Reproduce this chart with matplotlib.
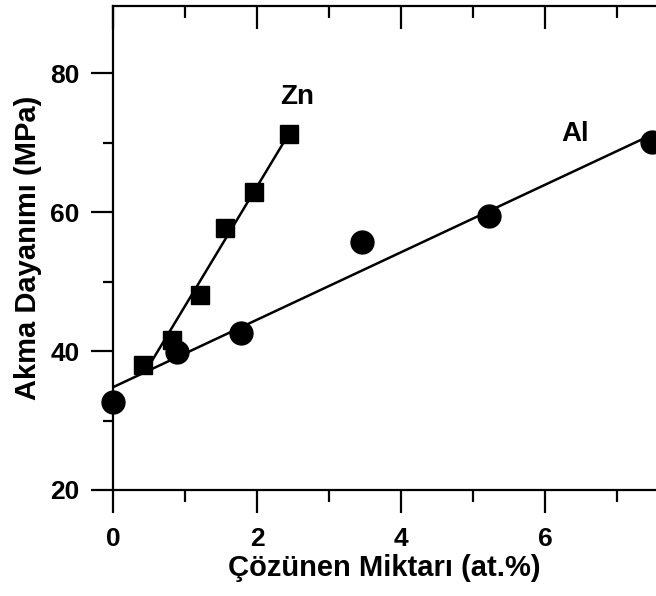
"""Yield strength vs solute content for Zn and Al additions (grayscale scan look)."""
import numpy as np
import matplotlib
matplotlib.use("Agg")
import matplotlib.pyplot as plt

# data
zn_x = [0.42, 0.82, 1.21, 1.56, 1.96, 2.44]
zn_y = [38.0, 41.6, 48.1, 57.7, 62.9, 71.2]
al_x = [0.0, 0.89, 1.78, 3.46, 5.22, 7.49]
al_y = [32.7, 39.9, 42.6, 55.7, 59.4, 70.1]

# straight fit lines: (intercept, slope, x range)
zn_fit = (29.3, 17.2, (0.49, 2.44))
al_fit = (34.8, 4.86, (0.0, 7.40))

XLABEL = "Çözünen Miktarı (at.%)"
YLABEL = "Akma Dayanımı (MPa)"

plt.rcParams.update({"font.family": ["Liberation Sans", "DejaVu Sans"],
                     "font.weight": "bold"})

fig = plt.figure(figsize=(6.56, 5.96), dpi=100)
ax = fig.add_axes([0.1723, 0.1779, 0.8277, 0.812])

for (b, m, (x0, x1)) in (zn_fit, al_fit):
    xs = np.array([x0, x1])
    ax.plot(xs, b + m * xs, color="black", lw=1.8, zorder=2)

ax.plot(zn_x, zn_y, "s", color="black", ms=12.8, zorder=3)
ax.plot(al_x, al_y, "o", color="black", ms=16.5, zorder=3, clip_on=False)

ax.text(2.56, 76.6, "Zn", fontsize=20, fontweight="bold", ha="center", va="center")
ax.text(6.42, 71.2, "Al", fontsize=20, fontweight="bold", ha="center", va="center")

ax.set_xlim(0, 7.54)
ax.set_ylim(20, 89.7)
ax.set_xticks([0, 2, 4, 6])
ax.set_xticks([1, 3, 5, 7], minor=True)
ax.set_yticks([20, 40, 60, 80])
ax.set_yticks([30, 50, 70], minor=True)

for s in ("left", "bottom", "top"):
    ax.spines[s].set_linewidth(1.6)
ax.spines["right"].set_visible(False)

ax.tick_params(axis="y", which="major", direction="out", length=16, width=1.6,
               labelsize=19, pad=8)
ax.tick_params(axis="y", which="minor", direction="out", length=7.5, width=1.6)
ax.tick_params(axis="x", which="major", direction="out", length=16.5, width=1.6,
               labelsize=19, pad=10, top=True)
ax.tick_params(axis="x", which="minor", direction="out", length=8.5, width=1.6,
               top=True)
# top ticks point inward
for t in ax.xaxis.get_major_ticks() + ax.xaxis.get_minor_ticks():
    t.tick2line.set_marker(matplotlib.lines.TICKDOWN)
for lbl in ax.get_xticklabels() + ax.get_yticklabels():
    lbl.set_fontweight("bold")

ax.set_xlabel(XLABEL, fontsize=21, fontweight="bold", labelpad=2)
ax.set_ylabel(YLABEL, fontsize=21, fontweight="bold", labelpad=6)

fig.savefig("out.png", dpi=100)
